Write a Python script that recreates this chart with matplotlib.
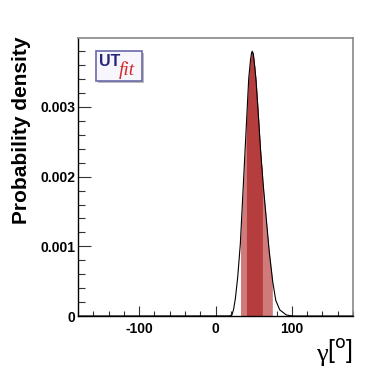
import numpy as np
import matplotlib
matplotlib.use("Agg")
import matplotlib.pyplot as plt
from matplotlib.patches import Rectangle
from matplotlib.ticker import MultipleLocator

# ---- data ----
gamma_deg = [-180, 0, 18, 21.5, 23.6, 25.8, 28.8, 32.3, 34.5, 36.7, 39.1, 41.3,
             43.5, 45.5, 47.0, 48.1, 49.5, 51.0, 52.9, 55.9, 58.5, 62.0, 65.8,
             69.7, 74.5, 78.7, 83.9, 92.5, 100, 180]
density = [0, 0, 0, 0.000015, 0.00009, 0.00023, 0.00052, 0.00099, 0.00147,
           0.00194, 0.00245, 0.00293, 0.00341, 0.00365, 0.00377, 0.00380,
           0.00376, 0.00362, 0.00341, 0.00293, 0.00245, 0.00194, 0.00147,
           0.00099, 0.00052, 0.00023, 0.00009, 0.000015, 0, 0]
range_68 = [40.5, 61.3]
range_95 = [32.7, 74.4]
x_ticks = [-100, 0, 100]
y_ticks = [0, 0.001, 0.002, 0.003]
y_tick_labels = ["0", "0.001", "0.002", "0.003"]

plt.rcParams['font.family'] = ['Liberation Sans', 'DejaVu Sans']

fig = plt.figure(figsize=(3.92, 3.74), dpi=100)
ax = fig.add_axes([78/392, 58/374, 275/392, 278/374])

gx = np.array(gamma_deg, dtype=float)
gy = np.array(density, dtype=float)
fine = np.linspace(-180, 180, 3601)
fy = np.interp(fine, gx, gy)

def band(lo, hi, color):
    xs = np.concatenate([[lo], fine[(fine > lo) & (fine < hi)], [hi]])
    ys = np.interp(xs, gx, gy)
    ax.fill_between(xs, 0, ys, color=color, lw=0, zorder=2)

band(range_95[0], range_95[1], '#d07a7a')
band(range_68[0], range_68[1], '#b53d3d')
ax.plot(fine, fy, color='black', lw=0.8, zorder=3)

ax.set_xlim(-180, 180)
ax.set_ylim(0, 0.00399)
ax.set_xticks(x_ticks)
ax.set_xticklabels([str(t) for t in x_ticks])
ax.set_yticks(y_ticks)
ax.set_yticklabels(y_tick_labels)
ax.xaxis.set_minor_locator(MultipleLocator(20))
ax.yaxis.set_minor_locator(MultipleLocator(0.0002))
ax.tick_params(axis='both', which='both', direction='in', top=False, right=False,
               labelsize=10, width=0.8, color='#333333')
ax.tick_params(axis='x', which='major', length=7, pad=4)
ax.tick_params(axis='x', which='minor', length=3.5)
ax.tick_params(axis='y', which='major', length=9, pad=2)
ax.tick_params(axis='y', which='minor', length=5)
for lab in ax.get_xticklabels() + ax.get_yticklabels():
    lab.set_fontweight('bold')

for side in ['left', 'bottom']:
    ax.spines[side].set_color('black')
    ax.spines[side].set_linewidth(1.0)
for side in ['top', 'right']:
    ax.spines[side].set_color('#888888')
    ax.spines[side].set_linewidth(1.2)

fig.text(22/392, 1 - 37/374, 'Probability density', rotation=90, ha='center',
         va='top', fontsize=15, fontweight='bold')

# x-axis title: serif gamma followed by [°]
bracket = fig.text(353/392, 1 - 366/374, '[$^{\\rm o}$]', ha='right', va='bottom',
                   fontsize=18)
fig.canvas.draw()
bb = bracket.get_window_extent()
fig.text(bb.x0 / fig.bbox.width, 1 - 366/374, 'γ', ha='right', va='bottom',
         fontsize=19, family='Liberation Serif')

# UTfit logo
lx0, ly0, lw, lh = 96/392, 1 - 81/374, 46/392, 30/374
fig.patches.append(Rectangle((lx0 + 1.5/392, ly0 - 1.5/374), lw, lh,
                             transform=fig.transFigure, facecolor='#bbbbbb',
                             edgecolor='none', zorder=5))
fig.patches.append(Rectangle((lx0, ly0), lw, lh, transform=fig.transFigure,
                             facecolor='#f6f6fc', edgecolor='#6a6aaa', lw=1.2,
                             zorder=6))
fig.text(lx0 + 3/392, ly0 + lh - 2.5/374, 'UT', ha='left', va='top', fontsize=11.5,
         fontweight='bold', color='#25257a', zorder=7)
fig.text(lx0 + 23/392, ly0 + 2/374, 'fit', ha='left', va='bottom', fontsize=14,
         style='italic', family='Liberation Serif', color='#d42a2a', zorder=7)

fig.savefig('out.png', dpi=100)
